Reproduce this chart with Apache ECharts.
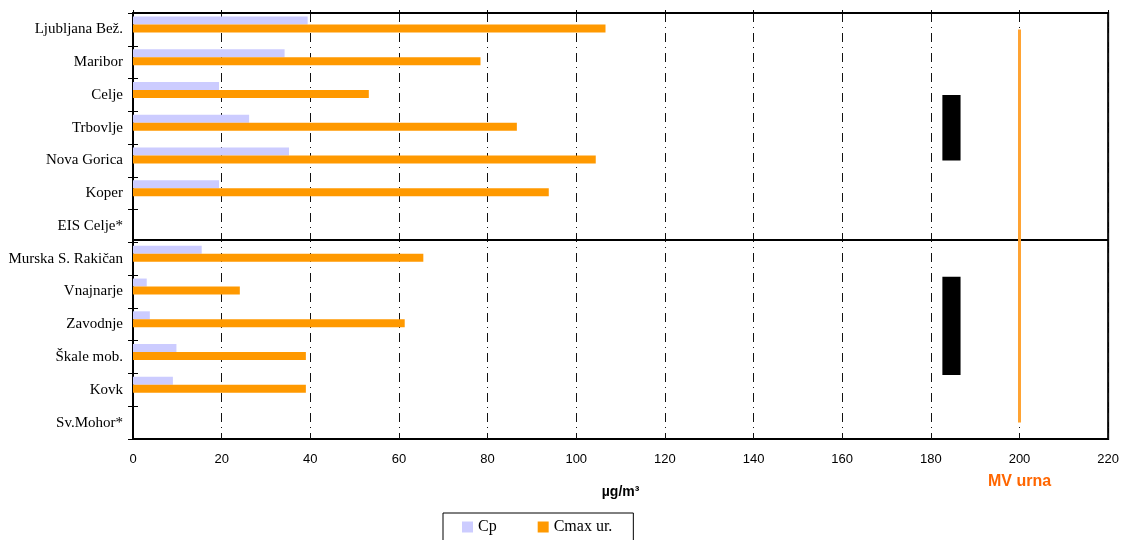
<!DOCTYPE html>
<html>
<head>
<meta charset="utf-8">
<script src="https://cdn.jsdelivr.net/npm/echarts@6/dist/echarts.min.js"></script>
<style>
html,body{margin:0;padding:0;background:#fff;}
#chart{width:1122px;height:540px;}
</style>
</head>
<body>
<div id="chart"></div>
<script>
const categories = ['Ljubljana Bež.','Maribor','Celje','Trbovlje','Nova Gorica','Koper','EIS Celje*','Murska S. Rakičan','Vnajnarje','Zavodnje','Škale mob.','Kovk','Sv.Mohor*'];
const cpValues = [39.4, 34.2, 19.4, 26.2, 35.2, 19.4, null, 15.5, 3.1, 3.8, 9.8, 9.0, null];
const cmaxValues = [106.6, 78.4, 53.2, 86.6, 104.4, 93.8, null, 65.5, 24.1, 61.3, 39.0, 39.0, null];
const xTicks = [0,20,40,60,80,100,120,140,160,180,200,220];
const limitValue = 200;
// black blocks: [xStart, bandStart, xEnd, bandEnd]
const blocks = [[182.6, 2.5, 186.7, 4.5],[182.6, 8.05, 186.7, 11.05]];
const groupDivider = 6.92;

const chart = echarts.init(document.getElementById('chart'));
const option = {
  animation: false,
  backgroundColor: '#fff',
  grid: {left: 133, right: 13, top: 13, bottom: 101, show: true, borderColor: '#000', borderWidth: 2, backgroundColor: 'transparent'},
  legend: {
    data: ['Cp','Cmax ur.'],
    left: 443, top: 513,
    padding: [6, 21, 10, 19],
    itemGap: 41, itemWidth: 11, itemHeight: 11,
    borderColor: '#000', borderWidth: 1,
    icon: 'rect',
    textStyle: {fontFamily: 'Liberation Serif', fontSize: 16, color: '#000'}
  },
  xAxis: [{
    type: 'value', min: 0, max: 220, interval: 20,
    name: 'µg/m³', nameLocation: 'middle', nameGap: 46,
    nameTextStyle: {fontFamily: 'Liberation Sans', fontWeight: 'bold', fontSize: 14, color: '#000'},
    axisLine: {show: true, lineStyle: {color: '#000', width: 2}},
    axisTick: {show: true, inside: true, length: 3, lineStyle: {color: '#000'}},
    axisLabel: {fontFamily: 'Liberation Sans', fontSize: 13, color: '#000', margin: 14,
      formatter: v => xTicks.includes(v) ? String(v) : ''},
    splitLine: {show: true, lineStyle: {color: '#111', width: 1, type: [9, 5, 1, 5]}}
  }],
  yAxis: [{
    type: 'category', data: categories, inverse: true,
    axisLine: {show: true, lineStyle: {color: '#000', width: 2}},
    axisTick: {show: true, length: 5, lineStyle: {color: '#000'}},
    axisLabel: {fontFamily: 'Liberation Serif', fontSize: 15, color: '#000', margin: 10},
    splitLine: {show: false}
  },{
    type: 'value', min: 0, max: 13, interval: 1, inverse: true, position: 'left',
    axisLine: {show: false},
    axisTick: {show: true, inside: true, length: 5, lineStyle: {color: '#000'}},
    axisLabel: {show: false},
    splitLine: {show: false}
  }],
  series: [
    {name: 'Cp', type: 'bar', data: cpValues, barWidth: 8, barGap: '0%', itemStyle: {color: '#ccccff'}},
    {name: 'Cmax ur.', type: 'bar', data: cmaxValues, barWidth: 8, barGap: '0%', itemStyle: {color: '#ff9900'}},
    {name: 'spacer', type: 'bar', data: categories.map(() => null), barWidth: 10, barGap: '0%', itemStyle: {color: 'transparent'}},
    {
      name: 'MV', type: 'line', yAxisIndex: 0,
      data: [[limitValue, categories[0]], [limitValue, categories[categories.length - 1]]],
      symbol: 'none', lineStyle: {color: '#ffa333', width: 3}, z: 5
    },
    {
      name: 'blocks', type: 'custom', yAxisIndex: 1,
      data: blocks,
      renderItem: function (params, api) {
        const p1 = api.coord([api.value(0), api.value(1)]);
        const p2 = api.coord([api.value(2), api.value(3)]);
        return {type: 'rect', shape: {x: p1[0], y: p1[1], width: p2[0] - p1[0], height: p2[1] - p1[1]}, style: {fill: '#000'}};
      },
      markLine: {
        silent: true, symbol: 'none', label: {show: false},
        lineStyle: {color: '#000', width: 2, type: 'solid'},
        data: [{yAxis: groupDivider}]
      },
      z: 4
    }
  ],
  graphic: [{
    type: 'text', left: 988, top: 474,
    style: {text: 'MV urna', fill: '#ff6600', font: 'bold 16px "Liberation Sans", Arial'}
  }]
};
chart.setOption(option);
</script>
</body>
</html>
